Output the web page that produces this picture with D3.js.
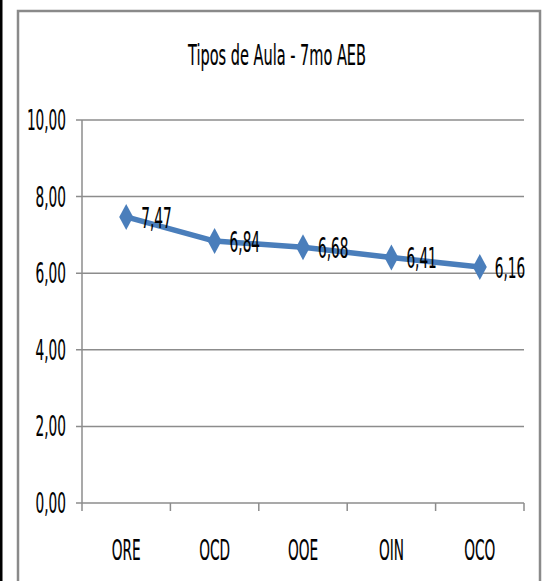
<!DOCTYPE html>
<html>
<head>
<meta charset="utf-8">
<script src="https://cdn.jsdelivr.net/npm/d3@7"></script>
<style>
  body { margin: 0; background: #fff; }
  svg text { font-family: "DejaVu Sans Condensed", "Liberation Sans Narrow", sans-serif; fill: #000; stroke: #000; stroke-width: 0.12; }
</style>
</head>
<body>
<svg width="546" height="581"></svg>
<script>
var title = "Tipos de Aula - 7mo AEB";
var categories = ["ORE", "OCD", "OOE", "OIN", "OCO"];
var values = [7.47, 6.84, 6.68, 6.41, 6.16];
var yTicks = [0, 2, 4, 6, 8, 10];

var fmt = function(v) { return d3.format(".2f")(v).replace(".", ","); };

var svg = d3.select("svg"),
    margin = {top: 120, right: 22, bottom: 78, left: 82},
    width = +svg.attr("width") - margin.left - margin.right,
    height = +svg.attr("height") - margin.top - margin.bottom;

// black strip on the left edge and the chart frame
svg.append("rect").attr("x", 0).attr("y", 0).attr("width", 2.5).attr("height", 581).attr("fill", "#000");
svg.append("path")
    .attr("d", "M18,600 V11 H540 V600")
    .attr("fill", "none")
    .attr("stroke", "#8a8a8a")
    .attr("stroke-width", 2.5);

// stretched text helper (the picture is squeezed horizontally)
function stext(sel, x, y, str, size, anchor, sx) {
  return sel.append("text")
      .attr("transform", "translate(" + x + "," + y + ") scale(" + (sx || 0.8) + ",1.45)")
      .attr("text-anchor", anchor || "start")
      .attr("font-size", size)
      .text(str);
}

stext(svg, 277, 65, title, 19, "middle", 0.85);

var g = svg.append("g").attr("transform", "translate(" + margin.left + "," + margin.top + ")");

var x = d3.scaleBand().domain(categories).range([0, width]);
var y = d3.scaleLinear().domain([0, 10]).range([height, 0]);

// gridlines
g.selectAll(".grid")
  .data(yTicks)
  .enter().append("line")
    .attr("x1", -6)
    .attr("x2", width)
    .attr("y1", function(d) { return y(d); })
    .attr("y2", function(d) { return y(d); })
    .attr("stroke", "#8c8c8c")
    .attr("stroke-width", 1.5);

// y axis line
g.append("line")
    .attr("x1", 0).attr("x2", 0)
    .attr("y1", 0).attr("y2", height)
    .attr("stroke", "#8c8c8c").attr("stroke-width", 1.5);

// x tick marks at band edges
var edges = categories.map(function(c) { return x(c); }).concat([width]);
g.selectAll(".xt")
  .data(edges)
  .enter().append("line")
    .attr("x1", function(d) { return d; })
    .attr("x2", function(d) { return d; })
    .attr("y1", height)
    .attr("y2", height + 8)
    .attr("stroke", "#8c8c8c")
    .attr("stroke-width", 1.5);

yTicks.forEach(function(t) {
  stext(g, -16, y(t) + 10, fmt(t), 19, "end");
});

categories.forEach(function(c) {
  stext(g, x(c) + x.bandwidth() / 2, height + 57, c, 19, "middle");
});

var cx = function(d, i) { return x(categories[i]) + x.bandwidth() / 2; };

var line = d3.line()
    .x(function(d, i) { return cx(d, i); })
    .y(function(d) { return y(d); });

g.append("path")
    .datum(values)
    .attr("d", line)
    .attr("fill", "none")
    .attr("stroke", "#4a7ebb")
    .attr("stroke-width", 5.5)
    .attr("stroke-linejoin", "round");

g.selectAll(".pt")
  .data(values)
  .enter().append("path")
    .attr("d", "M0,-13 L7,0 L0,13 L-7,0 Z")
    .attr("transform", function(d, i) { return "translate(" + cx(d, i) + "," + y(d) + ")"; })
    .attr("fill", "#4a7ebb");

values.forEach(function(v, i) {
  stext(g, cx(v, i) + 15, y(v) + 11, fmt(v), 19, "start");
});
</script>
</body>
</html>
